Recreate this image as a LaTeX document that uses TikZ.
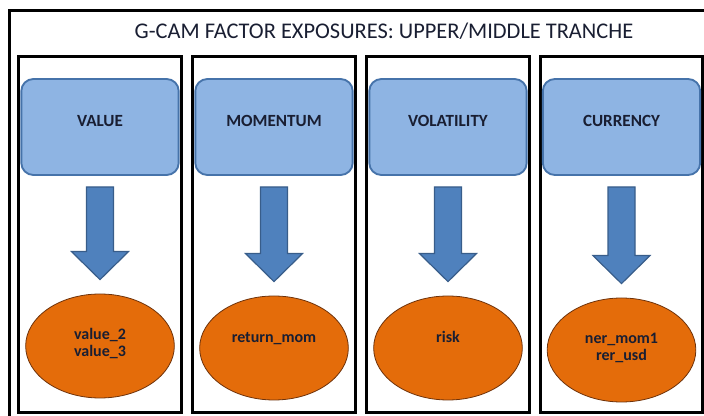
\documentclass[tikz,border=0pt]{standalone}
\usepackage{fontspec}
\setmainfont{Carlito}
\usetikzlibrary{calc,shapes.geometric}

\definecolor{factorblue}{RGB}{142,180,227}
\definecolor{factorline}{RGB}{70,115,170}
\definecolor{arrowblue}{RGB}{79,129,189}
\definecolor{arrowline}{RGB}{56,93,138}
\definecolor{exporange}{RGB}{228,108,10}
\definecolor{expline}{RGB}{110,50,10}
\definecolor{labeltext}{RGB}{25,30,50}

% block arrow from a factor box down to its exposure ellipse
\newcommand{\fatarrow}[2]{%
  \draw[fat] ($(#1.south)+(-13.5,11)$) -- ($(#1.south)+(13.5,11)$)
    -- ($(#2.north)+(13.5,-42)$) -- ($(#2.north)+(28.5,-42)$)
    -- ($(#2.north)+(0,-14)$)
    -- ($(#2.north)+(-28.5,-42)$) -- ($(#2.north)+(-13.5,-42)$) -- cycle;}

\begin{document}
\begin{tikzpicture}[x=0.75pt, y=-0.75pt,
  column/.style = {draw, line width=2.2pt, minimum width=122pt, minimum height=267pt, inner sep=0pt},
  factor/.style = {draw=factorline, fill=factorblue, line width=1.4pt, rounded corners=9pt, minimum width=118pt, minimum height=72pt, inner sep=0pt, text=labeltext, font=\bfseries\fontsize{12.8}{15}\selectfont, text height=8pt, text depth=8.5pt},
  exposure/.style = {ellipse, draw=expline, fill=exporange, line width=0.6pt, minimum width=111.5pt, minimum height=78pt, inner sep=0pt, text=labeltext, font=\bfseries\fontsize{12}{12.8}\selectfont, align=center, text height=8pt, text depth=16pt},
  fat/.style = {draw=arrowline, fill=arrowblue, line width=0.9pt}]

\useasboundingbox (0,0) rectangle (704,416);

% Frame and title
\node[draw, line width=1.9pt, minimum width=523pt, minimum height=308pt, inner sep=0pt, anchor=north west] (frame) at (8,9) {};
\node[font=\fontsize{16.8}{20}\selectfont, text=labeltext] (title) at (384,31) {G-CAM FACTOR EXPOSURES: UPPER/MIDDLE TRANCHE};

% Columns
\node[column] (col1) at (100,234.5) {};
\node[column] (col2) at (274,234.5) {};
\node[column] (col3) at (448,234.5) {};
\node[column] (col4) at (621.5,234.5) {};

% Factors
\node[factor] (value) at (100,127) {VALUE};
\node[factor] (momentum) at (274,127) {MOMENTUM};
\node[factor] (volatility) at (448,127) {VOLATILITY};
\node[factor] (currency) at (621.5,127) {CURRENCY};

% Exposures
\node[exposure, text height=, text depth=] (valexp) at (100,346) {value\_2\\value\_3\\[-8pt]};
\node[exposure] (momexp) at (274,348) {return\_mom};
\node[exposure] (volexp) at (448,348) {risk};
\node[exposure, text height=, text depth=] (curexp) at (621.5,350) {ner\_mom1\\rer\_usd\\[-8pt]};

% Arrows
\fatarrow{value}{valexp}
\fatarrow{momentum}{momexp}
\fatarrow{volatility}{volexp}
\fatarrow{currency}{curexp}

\end{tikzpicture}
\end{document}
